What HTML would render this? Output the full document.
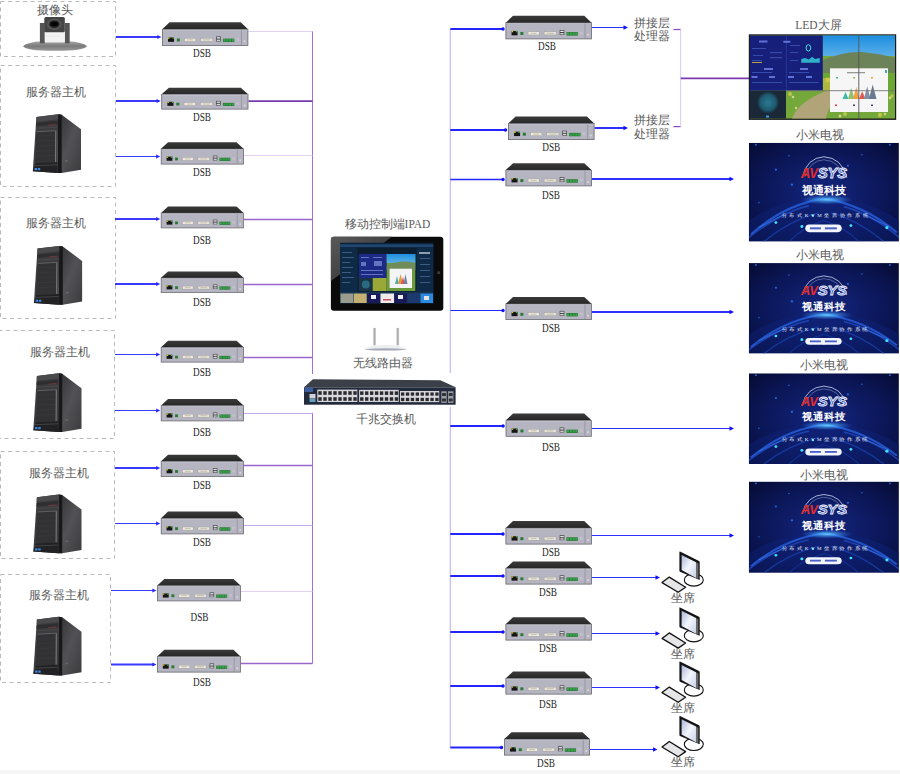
<!DOCTYPE html>
<html><head><meta charset="utf-8"><style>
html,body{margin:0;padding:0;background:#fff;width:900px;height:774px;overflow:hidden}
svg{display:block}
text{font-family:"Liberation Serif",serif}
.dsb{font-size:12.5px;text-anchor:middle;fill:#262626}
.cn{font-size:11.5px;text-anchor:middle;fill:#5a5a5a}
</style></head><body>
<svg width="900" height="774" viewBox="0 0 900 774">
<defs>
<linearGradient id="dsbTop" x1="0" y1="0" x2="0" y2="1">
  <stop offset="0" stop-color="#3a3a3a"/><stop offset="1" stop-color="#262626"/>
</linearGradient>
<g id="dsb">
  <polygon points="7.5,0.3 78.5,0.3 86,7.5 0,7.5" fill="url(#dsbTop)"/>
  <rect x="0.4" y="7.5" width="85.2" height="16.1" fill="#b5b4c1" stroke="#66666c" stroke-width="0.8"/>
  <line x1="0.8" y1="8.1" x2="85.2" y2="8.1" stroke="#d0d0da" stroke-width="0.6"/>
  <line x1="79.2" y1="8" x2="79.2" y2="23.2" stroke="#85858f" stroke-width="0.6"/>
  <rect x="6" y="15.6" width="6" height="4.4" fill="#151515"/>
  <rect x="6" y="15.6" width="1.6" height="1.3" fill="#e0d020"/>
  <rect x="10.3" y="15.6" width="1.6" height="1.3" fill="#40b040"/>
  <rect x="14.8" y="16.6" width="3" height="3" fill="#2a7a34"/>
  <rect x="22.5" y="16.4" width="11" height="3.2" fill="#f0ece0" stroke="#9a9890" stroke-width="0.4"/>
  <rect x="25" y="17.4" width="6" height="1.2" fill="#c8c4b8"/>
  <rect x="38.5" y="16.4" width="12" height="3.2" fill="#e8e4d8" stroke="#9a9890" stroke-width="0.4"/>
  <rect x="41" y="17.4" width="7" height="1.2" fill="#c8c4b8"/>
  <rect x="54" y="14.6" width="4.6" height="5" fill="#3a3a3a"/>
  <rect x="54.6" y="15.3" width="3.4" height="1.4" fill="#e8e8e8"/>
  <rect x="54.6" y="17.7" width="3.4" height="1.4" fill="#d8d8d8"/>
  <rect x="60.8" y="16.8" width="11.2" height="3.4" fill="#1e6a2e"/>
  <rect x="61.2" y="17.2" width="2.3" height="2.6" fill="#38a048"/><rect x="64" y="17.2" width="2.3" height="2.6" fill="#38a048"/><rect x="66.8" y="17.2" width="2.3" height="2.6" fill="#38a048"/><rect x="69.5" y="17.2" width="2.3" height="2.6" fill="#38a048"/>
  <circle cx="75.5" cy="17.6" r="1.1" fill="none" stroke="#d8d8d8" stroke-width="0.5"/>
  <circle cx="82.3" cy="19.5" r="1" fill="#d8d8e0"/>
</g>
</defs>

<rect x="0" y="770" width="900" height="4" fill="#f6f6f6"/>
<rect x="0.5" y="1.5" width="115.0" height="55.0" fill="none" stroke="#bababa" stroke-width="1" stroke-dasharray="4,3.5"/>
<rect x="0.5" y="65.5" width="115.0" height="121.0" fill="none" stroke="#bababa" stroke-width="1" stroke-dasharray="4,3.5"/>
<rect x="0.5" y="197.5" width="115.0" height="121.0" fill="none" stroke="#bababa" stroke-width="1" stroke-dasharray="4,3.5"/>
<rect x="-1.5" y="330.5" width="116.0" height="108.0" fill="none" stroke="#bababa" stroke-width="1" stroke-dasharray="4,3.5"/>
<rect x="0.5" y="451.5" width="114.0" height="107.0" fill="none" stroke="#bababa" stroke-width="1" stroke-dasharray="4,3.5"/>
<rect x="0.5" y="574.5" width="110.0" height="108.0" fill="none" stroke="#bababa" stroke-width="1" stroke-dasharray="4,3.5"/>
<line x1="312.5" y1="31" x2="312.5" y2="374" stroke="#a070d8" stroke-width="1"/>
<line x1="312.5" y1="412.8" x2="312.5" y2="663.5" stroke="#a070d8" stroke-width="1"/>
<line x1="248.3" y1="31.5" x2="312.5" y2="31.5" stroke="#e2d2f2" stroke-width="1"/>
<line x1="116" y1="37" x2="159" y2="37" stroke="#3a3aff" stroke-width="2"/>
<polygon points="161.5,37 157.3,35.0 157.3,39.0" fill="#2a2aff"/>
<line x1="248.4" y1="101.2" x2="312.5" y2="101.2" stroke="#7a3aae" stroke-width="1.8"/>
<line x1="116" y1="101" x2="158.3" y2="101" stroke="#3a3aff" stroke-width="2"/>
<polygon points="160.8,101 156.60000000000002,99.0 156.60000000000002,103.0" fill="#2a2aff"/>
<line x1="243.8" y1="155.5" x2="312.5" y2="155.5" stroke="#e2d2f2" stroke-width="1"/>
<line x1="116" y1="156.5" x2="157.8" y2="156.5" stroke="#3a3aff" stroke-width="1"/>
<polygon points="160.3,156.5 156.10000000000002,154.5 156.10000000000002,158.5" fill="#2a2aff"/>
<line x1="243.8" y1="219.5" x2="312.5" y2="219.5" stroke="#9a66cc" stroke-width="1.4"/>
<line x1="115" y1="219" x2="157.8" y2="219" stroke="#3a3aff" stroke-width="2"/>
<polygon points="160.3,219 156.10000000000002,217.0 156.10000000000002,221.0" fill="#2a2aff"/>
<line x1="243.8" y1="284.5" x2="312.5" y2="284.5" stroke="#9a66cc" stroke-width="1.4"/>
<line x1="115" y1="284" x2="157.8" y2="284" stroke="#3a3aff" stroke-width="2"/>
<polygon points="160.3,284 156.10000000000002,282.0 156.10000000000002,286.0" fill="#2a2aff"/>
<line x1="243.8" y1="357.5" x2="312.5" y2="357.5" stroke="#9a66cc" stroke-width="1.4"/>
<line x1="115" y1="354.5" x2="157.8" y2="354.5" stroke="#3a3aff" stroke-width="1"/>
<polygon points="160.3,354.5 156.10000000000002,352.5 156.10000000000002,356.5" fill="#2a2aff"/>
<line x1="243.8" y1="413.5" x2="312.5" y2="413.5" stroke="#c8a8e8" stroke-width="1.2"/>
<line x1="115" y1="410.5" x2="157.8" y2="410.5" stroke="#3a3aff" stroke-width="1.2"/>
<polygon points="160.3,410.5 156.10000000000002,408.5 156.10000000000002,412.5" fill="#2a2aff"/>
<line x1="243.8" y1="465.5" x2="312.5" y2="465.5" stroke="#9a66cc" stroke-width="1.4"/>
<line x1="115" y1="468" x2="157.8" y2="468" stroke="#3a3aff" stroke-width="2"/>
<polygon points="160.3,468 156.10000000000002,466.0 156.10000000000002,470.0" fill="#2a2aff"/>
<line x1="243.8" y1="525.5" x2="312.5" y2="525.5" stroke="#c8a8e8" stroke-width="1.2"/>
<line x1="115" y1="523.5" x2="157.8" y2="523.5" stroke="#3a3aff" stroke-width="1.2"/>
<polygon points="160.3,523.5 156.10000000000002,521.5 156.10000000000002,525.5" fill="#2a2aff"/>
<line x1="240.8" y1="591.5" x2="312.5" y2="591.5" stroke="#e2d2f2" stroke-width="1"/>
<line x1="111" y1="590.5" x2="154" y2="590.5" stroke="#3a3aff" stroke-width="1"/>
<polygon points="156.5,590.5 152.3,588.5 152.3,592.5" fill="#2a2aff"/>
<line x1="240.8" y1="663.5" x2="312.5" y2="663.5" stroke="#9a66cc" stroke-width="1.4"/>
<line x1="111" y1="664.5" x2="154" y2="664.5" stroke="#3a3aff" stroke-width="2"/>
<polygon points="156.5,664.5 152.3,662.5 152.3,666.5" fill="#2a2aff"/>
<line x1="450.3" y1="29" x2="450.3" y2="373" stroke="#beb4f0" stroke-width="1.1"/>
<line x1="450.3" y1="407.2" x2="450.3" y2="748" stroke="#beb4f0" stroke-width="1.1"/>
<line x1="450.3" y1="29" x2="503.5" y2="29" stroke="#2424ff" stroke-width="2"/>
<circle cx="503.0" cy="29" r="1.7" fill="#1010ff"/>
<line x1="591.8" y1="27.5" x2="625" y2="27.5" stroke="#3030ff" stroke-width="1"/>
<polygon points="628,27.5 623.5,25.3 623.5,29.7" fill="#1010ff"/>
<line x1="450.3" y1="130" x2="506" y2="130" stroke="#2424ff" stroke-width="2"/>
<circle cx="505.5" cy="130" r="1.7" fill="#1010ff"/>
<line x1="594.5" y1="128" x2="625" y2="128" stroke="#3030ff" stroke-width="2"/>
<polygon points="628,128 623.5,125.8 623.5,130.2" fill="#1010ff"/>
<line x1="450.3" y1="179.5" x2="503.5" y2="179.5" stroke="#2424ff" stroke-width="1.3"/>
<circle cx="503.0" cy="179.5" r="1.7" fill="#1010ff"/>
<line x1="591.8" y1="179" x2="731" y2="179" stroke="#3030ff" stroke-width="2"/>
<polygon points="734,179 729.5,176.8 729.5,181.2" fill="#1010ff"/>
<line x1="450.3" y1="310.5" x2="503.5" y2="310.5" stroke="#2424ff" stroke-width="1.2"/>
<circle cx="503.0" cy="310.5" r="1.7" fill="#1010ff"/>
<line x1="591.8" y1="312" x2="731" y2="312" stroke="#3030ff" stroke-width="2"/>
<polygon points="734,312 729.5,309.8 729.5,314.2" fill="#1010ff"/>
<line x1="450.3" y1="426" x2="503.6" y2="426" stroke="#2424ff" stroke-width="2"/>
<circle cx="503.1" cy="426" r="1.7" fill="#1010ff"/>
<line x1="591.7" y1="428.5" x2="731" y2="428.5" stroke="#3030ff" stroke-width="1.2"/>
<polygon points="734,428.5 729.5,426.3 729.5,430.7" fill="#1010ff"/>
<line x1="450.3" y1="534" x2="503.5" y2="534" stroke="#2424ff" stroke-width="2"/>
<circle cx="503.0" cy="534" r="1.7" fill="#1010ff"/>
<line x1="591.8" y1="535.5" x2="731" y2="535.5" stroke="#3030ff" stroke-width="1"/>
<polygon points="734,535.5 729.5,533.3 729.5,537.7" fill="#1010ff"/>
<line x1="450.3" y1="576" x2="503.5" y2="576" stroke="#2424ff" stroke-width="2"/>
<circle cx="503.0" cy="576" r="1.7" fill="#1010ff"/>
<line x1="591.8" y1="577.5" x2="657" y2="577.5" stroke="#3030ff" stroke-width="1"/>
<polygon points="660,577.5 655.5,575.3 655.5,579.7" fill="#1010ff"/>
<line x1="450.3" y1="632" x2="503.5" y2="632" stroke="#2424ff" stroke-width="2"/>
<circle cx="503.0" cy="632" r="1.7" fill="#1010ff"/>
<line x1="591.8" y1="633.5" x2="657" y2="633.5" stroke="#3030ff" stroke-width="1"/>
<polygon points="660,633.5 655.5,631.3 655.5,635.7" fill="#1010ff"/>
<line x1="450.3" y1="686" x2="503.5" y2="686" stroke="#2424ff" stroke-width="2"/>
<circle cx="503.0" cy="686" r="1.7" fill="#1010ff"/>
<line x1="591.8" y1="687.5" x2="657" y2="687.5" stroke="#3030ff" stroke-width="1"/>
<polygon points="660,687.5 655.5,685.3 655.5,689.7" fill="#1010ff"/>
<line x1="450.3" y1="747.5" x2="502" y2="747.5" stroke="#2424ff" stroke-width="2"/>
<circle cx="501.5" cy="747.5" r="1.7" fill="#1010ff"/>
<line x1="590" y1="749.5" x2="654.5" y2="749.5" stroke="#3030ff" stroke-width="1"/>
<polygon points="657.5,749.5 653.0,747.3 653.0,751.7" fill="#1010ff"/>
<use href="#dsb" transform="translate(162,22) scale(1.0035,0.9917)"/>
<use href="#dsb" transform="translate(161.3,87.5) scale(1.0128,0.9167)"/>
<use href="#dsb" transform="translate(160.8,142) scale(0.9651,0.9375)"/>
<use href="#dsb" transform="translate(160.8,206.3) scale(0.9651,0.9167)"/>
<use href="#dsb" transform="translate(160.8,271.3) scale(0.9651,0.9042)"/>
<use href="#dsb" transform="translate(160.8,340.5) scale(0.9651,0.9167)"/>
<use href="#dsb" transform="translate(160.8,398.8) scale(0.9651,0.9375)"/>
<use href="#dsb" transform="translate(160.8,454.5) scale(0.9651,0.9375)"/>
<use href="#dsb" transform="translate(160.8,511.3) scale(0.9651,0.9583)"/>
<use href="#dsb" transform="translate(157,578.8) scale(0.9744,0.9375)"/>
<use href="#dsb" transform="translate(157,649.5) scale(0.9744,0.9583)"/>
<use href="#dsb" transform="translate(505.5,15.5) scale(1.0035,0.9917)"/>
<use href="#dsb" transform="translate(508,116.3) scale(1.0058,0.9875)"/>
<use href="#dsb" transform="translate(505.5,163) scale(1.0035,0.9708)"/>
<use href="#dsb" transform="translate(505.5,296.8) scale(1.0035,0.9667)"/>
<use href="#dsb" transform="translate(505.6,413.3) scale(1.0012,0.9750)"/>
<use href="#dsb" transform="translate(505.5,520.8) scale(1.0035,0.9875)"/>
<use href="#dsb" transform="translate(505.5,561.3) scale(1.0035,0.9667)"/>
<use href="#dsb" transform="translate(505.5,617) scale(1.0035,0.9792)"/>
<use href="#dsb" transform="translate(505.5,671.3) scale(1.0035,0.9667)"/>
<use href="#dsb" transform="translate(504,732) scale(1.0000,0.9792)"/>
<text class="dsb" x="202" y="56.7" textLength="18" lengthAdjust="spacingAndGlyphs">DSB</text>
<text class="dsb" x="202" y="120.5" textLength="18" lengthAdjust="spacingAndGlyphs">DSB</text>
<text class="dsb" x="202" y="176.2" textLength="18" lengthAdjust="spacingAndGlyphs">DSB</text>
<text class="dsb" x="202" y="244.2" textLength="18" lengthAdjust="spacingAndGlyphs">DSB</text>
<text class="dsb" x="202" y="306.2" textLength="18" lengthAdjust="spacingAndGlyphs">DSB</text>
<text class="dsb" x="202" y="375.5" textLength="18" lengthAdjust="spacingAndGlyphs">DSB</text>
<text class="dsb" x="202" y="436.2" textLength="18" lengthAdjust="spacingAndGlyphs">DSB</text>
<text class="dsb" x="202" y="488.7" textLength="18" lengthAdjust="spacingAndGlyphs">DSB</text>
<text class="dsb" x="202" y="545.5" textLength="18" lengthAdjust="spacingAndGlyphs">DSB</text>
<text class="dsb" x="199.5" y="620.5" textLength="18" lengthAdjust="spacingAndGlyphs">DSB</text>
<text class="dsb" x="202" y="685.5" textLength="18" lengthAdjust="spacingAndGlyphs">DSB</text>
<text class="dsb" x="547" y="50.0" textLength="18" lengthAdjust="spacingAndGlyphs">DSB</text>
<text class="dsb" x="551.3" y="151.2" textLength="18" lengthAdjust="spacingAndGlyphs">DSB</text>
<text class="dsb" x="551" y="198.5" textLength="18" lengthAdjust="spacingAndGlyphs">DSB</text>
<text class="dsb" x="551" y="332.2" textLength="18" lengthAdjust="spacingAndGlyphs">DSB</text>
<text class="dsb" x="551" y="450.5" textLength="18" lengthAdjust="spacingAndGlyphs">DSB</text>
<text class="dsb" x="551" y="556.2" textLength="18" lengthAdjust="spacingAndGlyphs">DSB</text>
<text class="dsb" x="548" y="596.2" textLength="18" lengthAdjust="spacingAndGlyphs">DSB</text>
<text class="dsb" x="548" y="651.7" textLength="18" lengthAdjust="spacingAndGlyphs">DSB</text>
<text class="dsb" x="548" y="707.5" textLength="18" lengthAdjust="spacingAndGlyphs">DSB</text>
<text class="dsb" x="546" y="767.2" textLength="18" lengthAdjust="spacingAndGlyphs">DSB</text>
<defs>
  <linearGradient id="towerFront" x1="0" y1="0" x2="1" y2="0">
    <stop offset="0" stop-color="#242426"/><stop offset="0.5" stop-color="#3a3a3d"/><stop offset="1" stop-color="#2a2a2c"/>
  </linearGradient>
  <linearGradient id="towerSide" x1="0" y1="0" x2="1" y2="1">
    <stop offset="0" stop-color="#303033"/><stop offset="0.5" stop-color="#525256"/><stop offset="1" stop-color="#3c3c3f"/>
  </linearGradient>
  <linearGradient id="camBase" x1="0" y1="0" x2="0" y2="1">
    <stop offset="0" stop-color="#a8a8a8"/><stop offset="0.5" stop-color="#7a7a7a"/><stop offset="1" stop-color="#9a9a9a"/>
  </linearGradient>
  <g id="tower">
    <polygon points="3.6,2.7 25.3,0 24.9,58.8 0,57" fill="#3c3c3f"/>
    <polygon points="25.3,0 28.9,0.6 48.2,15 48.2,55.5 28.9,58.8 24.9,58.8" fill="url(#towerSide)"/>
    <polygon points="25.3,0 28.9,0.6 28.9,58.8 24.9,58.8" fill="#18181a"/>
    <polygon points="3.6,2.7 25.3,0 25.3,5 3.4,7.5" fill="#4a4a4d"/>
    <polygon points="3.4,8.5 25,6.5 25,10 3.2,12" fill="#2e2e30"/>
    <line x1="3.3" y1="14" x2="25" y2="13" stroke="#505053" stroke-width="0.6"/>
    <polygon points="4,17.5 23.5,16.5 23.3,48 2.5,49" fill="#323235"/>
    <g stroke="#3c3c40" stroke-width="0.5"><line x1="4" y1="22" x2="23.4" y2="21"/><line x1="3.8" y1="27" x2="23.4" y2="26"/><line x1="3.6" y1="32" x2="23.3" y2="31"/><line x1="3.4" y1="37" x2="23.3" y2="36"/><line x1="3.2" y1="42" x2="23.3" y2="41"/></g>
    <line x1="23" y1="16.8" x2="22.8" y2="48" stroke="#8a8a8e" stroke-width="0.9"/>
    <line x1="4" y1="17.5" x2="23.5" y2="16.5" stroke="#6a6a6e" stroke-width="0.8"/>
    <polygon points="2.5,49 24.9,48 24.9,58.8 0,57" fill="#222224"/>
    <line x1="1" y1="51.5" x2="24.9" y2="50.6" stroke="#58585c" stroke-width="0.6"/>
    <rect x="1.8" y="53.8" width="2.4" height="2.2" fill="#3a86e0"/><rect x="5" y="53.8" width="2.4" height="2.2" fill="#3a86e0"/>
    <line x1="15" y1="11" x2="23" y2="10.3" stroke="#9a3a3a" stroke-width="0.6"/>
    <rect x="32" y="46" width="3" height="1.5" fill="#666"/>
  </g>
</defs>
<!-- box titles -->
<text class="cn" x="54.8" y="14">摄像头</text>
<text class="cn" x="55.8" y="95.8">服务器主机</text>
<text class="cn" x="55.5" y="227">服务器主机</text>
<text class="cn" x="59.5" y="355.8">服务器主机</text>
<text class="cn" x="59.3" y="476.8">服务器主机</text>
<text class="cn" x="59.3" y="599">服务器主机</text>
<!-- camera -->
<path d="M23,46.2 Q27,42 42,41.2 L68,41.2 Q83,42 87,46.2 Q84,50.8 55,50.8 Q26,50.8 23,46.2 Z" fill="url(#camBase)"/>
<rect x="39.9" y="23" width="4.9" height="20.3" fill="#555"/>
<rect x="64.8" y="23" width="4.9" height="20.3" fill="#555"/>
<rect x="44.8" y="32" width="20" height="10.5" fill="#f2f2f2"/>
<line x1="46" y1="36" x2="60" y2="36" stroke="#ddd" stroke-width="0.5"/>
<rect x="44.3" y="16.9" width="20.5" height="15.4" rx="1.5" fill="#444"/>
<ellipse cx="54.3" cy="24.4" rx="7.2" ry="5.6" fill="#5a5a5a"/>
<ellipse cx="54.3" cy="24.2" rx="5.5" ry="4" fill="#2a2a2a"/>
<ellipse cx="54.3" cy="24" rx="3.8" ry="2.4" fill="#050505"/>
<!-- towers -->
<use href="#tower" transform="translate(32.8,114.2)"/>
<use href="#tower" transform="translate(33.9,245.9)"/>
<use href="#tower" transform="translate(33.3,373.2)"/>
<use href="#tower" transform="translate(33.3,494.5)"/>
<use href="#tower" transform="translate(33.3,616.7)"/>
<defs>
  <linearGradient id="ipadGloss" x1="0" y1="0" x2="1" y2="1">
    <stop offset="0" stop-color="#5a5a5a"/><stop offset="0.7" stop-color="#3a3a3a"/><stop offset="1" stop-color="#2a2a2a"/>
  </linearGradient>
  <linearGradient id="antenna" x1="0" y1="0" x2="1" y2="0">
    <stop offset="0" stop-color="#e0e0e0"/><stop offset="0.5" stop-color="#a8a8a8"/><stop offset="1" stop-color="#d0d0d0"/>
  </linearGradient>
  <linearGradient id="sky" x1="0" y1="0" x2="0" y2="1">
    <stop offset="0" stop-color="#1d8ee0"/><stop offset="1" stop-color="#5ab0e8"/>
  </linearGradient>
  <g id="ports8">
    <rect x="0" y="0" width="40" height="12.4" fill="#d8d8dc"/>
    <g fill="#2a2a2e">
      <rect x="1" y="1.6" width="3.4" height="3.6"/><rect x="6" y="1.6" width="3.4" height="3.6"/><rect x="11" y="1.6" width="3.4" height="3.6"/><rect x="16" y="1.6" width="3.4" height="3.6"/>
      <rect x="21" y="1.6" width="3.4" height="3.6"/><rect x="26" y="1.6" width="3.4" height="3.6"/><rect x="31" y="1.6" width="3.4" height="3.6"/><rect x="36" y="1.6" width="3.4" height="3.6"/>
      <rect x="1" y="7.6" width="3.4" height="3.6"/><rect x="6" y="7.6" width="3.4" height="3.6"/><rect x="11" y="7.6" width="3.4" height="3.6"/><rect x="16" y="7.6" width="3.4" height="3.6"/>
      <rect x="21" y="7.6" width="3.4" height="3.6"/><rect x="26" y="7.6" width="3.4" height="3.6"/><rect x="31" y="7.6" width="3.4" height="3.6"/><rect x="36" y="7.6" width="3.4" height="3.6"/>
    </g>
  </g>
</defs>
<!-- iPad label -->
<text class="cn" x="387.5" y="228">移动控制端IPAD</text>
<!-- iPad -->
<rect x="330.9" y="236.7" width="112.4" height="74" rx="3" fill="#0a0a0a"/>
<path d="M333.9,236.7 L392,236.7 L330.9,281 L330.9,239.7 Q330.9,236.7 333.9,236.7 Z" fill="url(#ipadGloss)"/>
<circle cx="438.7" cy="272.7" r="1.6" fill="#3a3a3a"/>
<rect x="340" y="242.7" width="93.3" height="60.6" fill="#0d2238"/>
<rect x="340" y="244.3" width="93.3" height="2.8" fill="#1f4670"/>
<rect x="340" y="247.1" width="17.4" height="45" fill="#0f2a46"/>
<rect x="416.7" y="247.1" width="16.6" height="45" fill="#0f2a46"/>
<rect x="357.5" y="248" width="59" height="5.5" fill="#0c1d30"/>
<g fill="#5f86b0" opacity="0.7">
  <rect x="342" y="252" width="10" height="0.8"/><rect x="342" y="257" width="12" height="0.8"/><rect x="342" y="262" width="8" height="0.8"/>
  <rect x="342" y="267" width="11" height="0.8"/><rect x="342" y="272" width="9" height="0.8"/><rect x="342" y="277" width="12" height="0.8"/><rect x="342" y="282" width="8" height="0.8"/>
  <rect x="419" y="252" width="11" height="2" fill="#c0d0e0"/><rect x="420" y="258" width="10" height="0.8"/><rect x="420" y="264" width="10" height="0.8"/>
  <rect x="420" y="270" width="10" height="0.8"/><rect x="420" y="276" width="10" height="0.8"/><rect x="420" y="282" width="10" height="0.8"/>
</g>
<rect x="359" y="254" width="27.7" height="24" fill="#1c2a86"/>
<g fill="#8fa8e8" opacity="0.6"><rect x="361" y="257" width="8" height="1"/><rect x="373" y="257" width="9" height="1"/><rect x="361" y="262" width="5" height="4"/><rect x="374" y="261" width="8" height="5"/><rect x="361" y="270" width="22" height="1"/><rect x="361" y="274" width="22" height="1"/></g>
<rect x="359" y="278" width="13.7" height="13" fill="#1a3446"/>
<circle cx="365.8" cy="284.5" r="4" fill="#2a6a80"/>
<rect x="372.7" y="278" width="14" height="13" fill="#9aa838"/>
<rect x="386.7" y="254" width="28.6" height="37" fill="#6a9a3a"/>
<rect x="386.7" y="254" width="28.6" height="9" fill="url(#sky)"/>
<path d="M386.7,266 Q400,259 415.3,263 L415.3,270 L386.7,270 Z" fill="#6f8c5a"/>
<rect x="389.6" y="268.7" width="22.4" height="19.3" fill="#f4f4f6"/>
<g><polygon points="395,284 397,276 399,284" fill="#4ab0a8"/><polygon points="398,284 400.5,274 403,284" fill="#e09a40"/><polygon points="401,284 403,277 405,284" fill="#e05050"/><polygon points="403.5,284 405.5,274 407.5,284" fill="#7080a0"/></g>
<rect x="340" y="292" width="93.3" height="11.3" fill="#173452"/>
<rect x="340.5" y="293.5" width="13" height="9.5" fill="#9a9c90"/>
<rect x="354" y="293.5" width="12.7" height="9.5" fill="#c4b070"/>
<rect x="367.2" y="293.5" width="12.8" height="9.5" fill="#1a1a5a"/><rect x="371" y="295" width="5" height="4" fill="#f0f0f0"/>
<rect x="380.5" y="293.5" width="13.5" height="9.5" fill="#f0eaea"/><rect x="383" y="299" width="8" height="1.5" fill="#d05060"/>
<rect x="394.5" y="293.5" width="12.5" height="9.5" fill="#1a1a5a"/><rect x="398" y="295" width="5" height="4" fill="#f0f0f0"/>
<rect x="407.5" y="293.5" width="12.5" height="9.5" fill="#1c3a70"/>
<rect x="420.5" y="293.5" width="12.5" height="9.5" fill="#2a8ae0"/><rect x="424" y="296" width="5" height="4" fill="#e8e0e0"/>
<!-- router -->
<rect x="373" y="327.9" width="2.9" height="17.5" fill="url(#antenna)"/>
<rect x="396.2" y="327.9" width="2.9" height="17.5" fill="url(#antenna)"/>
<path d="M363.7,349.5 Q368,345 385,344.9 Q402,345 407.7,349.5 Q402,350.6 385,350.5 Q368,350.6 363.7,349.5 Z" fill="#eceef2"/>
<path d="M364.5,349.2 Q385,347.5 407,349.2 Q402,350.6 385,350.5 Q368,350.6 364.5,349.2 Z" fill="#a8aab8"/>
<text class="cn" x="383" y="366.5">无线路由器</text>
<!-- switch -->
<polygon points="312.9,379.3 440.4,380.2 455.6,387.3 304,387.3" fill="#3b3f48"/>
<rect x="304" y="387.3" width="151.6" height="17.4" fill="#222a3c"/>
<rect x="304.5" y="387.5" width="8.5" height="4.5" fill="#3d5d9d"/>
<rect x="309.5" y="394" width="6" height="4.5" fill="#cfd2d8"/>
<rect x="309.5" y="399" width="6" height="3" fill="#5fa0c0"/>
<use href="#ports8" transform="translate(317.3,389.6)"/>
<use href="#ports8" transform="translate(359.1,389.8) scale(0.99,0.98)"/>
<use href="#ports8" transform="translate(400,391) scale(0.98,0.9)"/>
<rect x="441.3" y="391.3" width="5.4" height="11.6" fill="#9a9ea8"/>
<rect x="448" y="391.3" width="5.4" height="11.6" fill="#9a9ea8"/>
<rect x="442" y="393" width="4" height="3" fill="#333"/><rect x="442" y="398.5" width="4" height="3" fill="#333"/>
<rect x="448.7" y="393" width="4" height="3" fill="#333"/><rect x="448.7" y="398.5" width="4" height="3" fill="#333"/>
<text class="cn" x="386" y="422.5">千兆交换机</text>
<defs>
  <radialGradient id="tvbg" cx="0.5" cy="0.5" r="0.72">
    <stop offset="0" stop-color="#142680"/><stop offset="0.6" stop-color="#0b1656"/><stop offset="1" stop-color="#060a30"/>
  </radialGradient>
  <radialGradient id="glow" cx="0.5" cy="0.5" r="0.5">
    <stop offset="0" stop-color="#6ad0ff" stop-opacity="1"/><stop offset="1" stop-color="#2a80ff" stop-opacity="0"/>
  </radialGradient>
  <linearGradient id="scr" x1="0" y1="0" x2="1" y2="1">
    <stop offset="0" stop-color="#a8b4d8"/><stop offset="0.5" stop-color="#f4f6fc"/><stop offset="1" stop-color="#c8d0e8"/>
  </linearGradient>
  <radialGradient id="teal" cx="0.5" cy="0.5" r="0.5">
    <stop offset="0" stop-color="#2a7a90"/><stop offset="0.7" stop-color="#1e5a70"/><stop offset="1" stop-color="#1a2a3a"/>
  </radialGradient>
  <filter id="soft" x="-10%" y="-10%" width="120%" height="120%"><feGaussianBlur stdDeviation="0.5"/></filter>
  <clipPath id="tvclip"><rect x="0" y="0" width="150" height="99"/></clipPath>
  <g id="tv" clip-path="url(#tvclip)">
    <rect x="0" y="0" width="150" height="99" fill="url(#tvbg)"/>
    <ellipse cx="75" cy="150" rx="115" ry="95" fill="#10247a" opacity="0.45"/>
    <g filter="url(#soft)">
    <path d="M2,92 Q35,62 75,56 Q115,62 148,90" fill="none" stroke="#2a6af0" stroke-width="2.2" opacity="0.7"/>
    <path d="M-5,99 Q30,70 60,63" fill="none" stroke="#2a5ae0" stroke-width="1.6" opacity="0.6"/>
    <path d="M155,99 Q125,72 95,64" fill="none" stroke="#2a5ae0" stroke-width="1.6" opacity="0.6"/>
    <path d="M15,99 Q40,78 70,70" fill="none" stroke="#1e50d0" stroke-width="1.4" opacity="0.55"/>
    <path d="M135,99 Q110,78 82,70" fill="none" stroke="#1e50d0" stroke-width="1.4" opacity="0.55"/>
    <path d="M40,99 Q55,84 75,78 Q95,84 110,99" fill="none" stroke="#1a44c0" stroke-width="1.2" opacity="0.5"/>
    <path d="M10,85 L35,72" stroke="#3a80ff" stroke-width="1.2" opacity="0.6"/>
    <path d="M140,84 L115,72" stroke="#3a80ff" stroke-width="1.2" opacity="0.6"/>
    </g>
    <ellipse cx="78" cy="57" rx="26" ry="5" fill="url(#glow)" opacity="0.95"/>
    <g fill="#40e8ff">
      <circle cx="27" cy="80" r="1.4"/><circle cx="53" cy="84" r="1.5"/><circle cx="75" cy="88" r="1.4"/><circle cx="102" cy="83" r="1.4"/><circle cx="138" cy="85" r="1.6"/><circle cx="64" cy="73" r="1.2"/>
    </g>
    <g fill="#2a7aff" opacity="0.8">
      <circle cx="7" cy="2" r="1"/><circle cx="27" cy="27" r="1.1"/><circle cx="99" cy="23" r="1.1"/><circle cx="141" cy="2" r="1"/><circle cx="43" cy="42" r="1.2"/><circle cx="113" cy="12" r="0.8"/><circle cx="10" cy="60" r="0.8"/><circle cx="40" cy="13" r="0.8"/>
    </g>
    <path d="M53,35 Q58,15 75,14 Q93,15 98,35" fill="none" stroke="#c0c8e8" stroke-width="0.9"/>
    <path d="M56,34 Q61,18 75,17 Q90,18 95,34" fill="none" stroke="#8a98c8" stroke-width="0.6"/>
    <text x="52" y="35.5" style="font-family:'Liberation Sans',sans-serif;font-weight:bold;font-style:italic;font-size:14px;fill:#e82a2a" textLength="17" lengthAdjust="spacingAndGlyphs">AV</text>
    <text x="69" y="35.5" style="font-family:'Liberation Sans',sans-serif;font-weight:bold;font-style:italic;font-size:14px;fill:#3050b8;stroke:#eef2ff;stroke-width:0.9px" textLength="29" lengthAdjust="spacingAndGlyphs">SYS</text>
    <text x="74.7" y="51.5" style="font-weight:bold;font-size:11px;fill:#ffffff" text-anchor="middle" textLength="44" lengthAdjust="spacingAndGlyphs">视通科技</text>
    <text x="75.8" y="74.4" style="font-size:5px;fill:#e8f0ff" text-anchor="middle" textLength="86" lengthAdjust="spacing">分布式KVM坐席协作系统</text>
    <rect x="56.4" y="82" width="36.4" height="7.6" rx="3.8" fill="#f4f6ff"/>
    <rect x="61" y="84.8" width="11" height="2" fill="#4a60c8"/><rect x="76" y="84.8" width="12" height="2" fill="#4a60c8"/>
  </g>
  <g id="ws">
    <ellipse cx="33" cy="2.4" rx="9.5" ry="6.2" fill="#fff" stroke="#111" stroke-width="1.1"/>
    <path d="M19.2,-25.9 L38.2,-16.6 Q38.9,-16.2 38.9,-15.4 L38.9,2.4 L19.2,-5.8 Q18.6,-6.1 18.6,-6.8 L18.6,-25 Q18.6,-26.2 19.2,-25.9 Z" fill="#141414"/>
    <polygon points="20.8,-22.6 35.2,-15.3 35.2,0.4 20.8,-7.4" fill="url(#scr)"/>
    <polygon points="35.2,-15.3 37.6,-14.1 37.6,1.4 35.2,0.4" fill="#6a6a6a"/>
    <polygon points="1.2,5.1 8.5,-0.4 24.8,9.7 17.4,14.8" fill="#e6e6e8" stroke="#111" stroke-width="1.3" stroke-linejoin="round"/>
  </g>
</defs>
<!-- stitching processor labels -->
<text class="cn" x="652" y="26.5">拼接层</text>
<text class="cn" x="652" y="40">处理器</text>
<text class="cn" x="652" y="123.5">拼接层</text>
<text class="cn" x="652" y="138">处理器</text>
<polyline points="673.5,29.5 680.7,29.5" stroke="#8a4ac0" stroke-width="1.2" fill="none"/>
<polyline points="673.5,126.6 680.7,126.6" stroke="#8a4ac0" stroke-width="1.2" fill="none"/>
<line x1="680.7" y1="29.5" x2="680.7" y2="126.6" stroke="#d8c8f0" stroke-width="1"/>
<line x1="680.7" y1="78.4" x2="749" y2="78.4" stroke="#7a3ab0" stroke-width="1.6"/>
<!-- LED -->
<text class="cn" x="818.4" y="28.5">LED大屏</text>
<rect x="748.8" y="34.3" width="147.4" height="85.6" fill="#1a1a1a"/>
<rect x="750" y="35.5" width="145" height="83" fill="#74a83a"/>
<rect x="822.8" y="35.5" width="72.2" height="20.5" fill="url(#sky)"/>
<path d="M822.8,60 Q845,51 862,52 Q882,54 895,58 L895,76 L822.8,76 Z" fill="#6c8258"/>
<rect x="822.8" y="73" width="72.2" height="18" fill="#6ea834"/>
<rect x="822.8" y="78" width="8" height="13" fill="#c8c040" opacity="0.7"/>
<path d="M792,118.5 Q798,102 826,91 L846,91 Q828,104 826,118.5 Z" fill="#b0a478"/>
<g fill="#d8d050" opacity="0.7"><circle cx="790" cy="94" r="2"/><circle cx="828" cy="80" r="2.5"/><circle cx="845" cy="114" r="2"/><circle cx="880" cy="115" r="2.2"/><circle cx="892" cy="96" r="1.8"/></g>
<rect x="750" y="35.5" width="72.8" height="55.2" fill="#16207a"/>
<line x1="786.4" y1="36" x2="786.4" y2="90.7" stroke="#2a3aa0" stroke-width="0.8"/>
<g fill="#6a7ae0" opacity="0.9">
  <rect x="759" y="40.5" width="8.5" height="2"/><rect x="783.3" y="40.8" width="7" height="2"/>
  <rect x="764" y="68" width="9" height="2"/><rect x="800" y="68" width="8" height="2"/>
  <rect x="751.5" y="76" width="6" height="2"/><rect x="769" y="76" width="6" height="2"/><rect x="788" y="76" width="6" height="2"/><rect x="806" y="76" width="6" height="2"/>
</g>
<g fill="#4a6ad0" opacity="0.6">
  <rect x="752" y="48" width="14" height="1"/><rect x="753" y="55" width="10" height="1"/><rect x="752" y="60" width="10" height="1"/><rect x="770" y="52" width="12" height="1.2"/><rect x="770" y="57" width="12" height="1.2"/>
  <rect x="790" y="45" width="10" height="1"/><rect x="790" y="52" width="8" height="1"/><rect x="790" y="60" width="8" height="1"/>
  <rect x="752" y="72" width="20" height="1"/><rect x="789" y="72" width="20" height="1"/><rect x="752" y="82" width="30" height="1"/><rect x="789" y="82" width="30" height="1"/>
</g>
<rect x="752" y="62" width="10" height="1" fill="#c0a040"/>
<ellipse cx="808.4" cy="47.9" rx="2.3" ry="3.2" fill="none" stroke="#40e0e0" stroke-width="1"/>
<path d="M801.2,62.7 L801.2,59 L805,58 L809,59.5 L812,56.8 L815,59 L819.8,58 L819.8,62.7 Z" fill="#30b0c8"/>
<rect x="750" y="90.7" width="36" height="27.8" fill="#1a2838"/>
<circle cx="768" cy="102.5" r="11" fill="url(#teal)"/>
<rect x="766" y="115.5" width="3" height="2" fill="#40a0e0"/>
<g fill="#e8e0a0" opacity="0.8"><circle cx="793" cy="97" r="1.3"/><circle cx="796" cy="108" r="1.2"/><circle cx="840" cy="116" r="1.5"/><circle cx="890" cy="98" r="1.4"/><circle cx="885" cy="114" r="1.3"/></g>
<rect x="830" y="68.3" width="58" height="43.7" fill="#f6f6f6"/>
<rect x="847" y="72" width="18" height="1.3" fill="#999"/>
<rect x="885" y="70" width="2" height="3" fill="#40b0a0"/>
<rect x="836" y="77" width="2" height="1.5" fill="#40b0a0"/><rect x="853" y="77" width="2" height="1.5" fill="#8ac060"/><rect x="871" y="77" width="2" height="1.5" fill="#f0a040"/>
<g>
  <polygon points="842.5,99 845.5,92 848.5,99" fill="#40b8a8"/>
  <polygon points="848,99 851.3,87.8 854.5,99" fill="#90c070"/>
  <polygon points="853,99 856.3,87 859.5,99" fill="#f0a040"/>
  <polygon points="859,99 862.2,91.2 865.5,99" fill="#e05a50"/>
  <polygon points="864,99 867.2,86.2 870.5,99" fill="#8090a8"/>
  <polygon points="869,99 872.7,84.5 876.5,99" fill="#6a7890"/>
</g>
<rect x="835" y="104.5" width="2" height="1.5" fill="#d04040"/><rect x="853" y="104.5" width="2" height="1.5" fill="#404060"/><rect x="871" y="104.5" width="2" height="1.5" fill="#404060"/>
<line x1="858.8" y1="35.5" x2="858.8" y2="118.5" stroke="#555" stroke-width="0.9"/>
<line x1="786" y1="90.7" x2="895" y2="90.7" stroke="#777" stroke-width="0.9"/>
<!-- TVs -->
<text class="cn" x="820.4" y="138.5">小米电视</text>
<use href="#tv" transform="translate(748.9,142.8) scale(1,0.9970)"/>
<text class="cn" x="820.4" y="258.5">小米电视</text>
<use href="#tv" transform="translate(748.9,263.1) scale(1,0.9121)"/>
<text class="cn" x="824" y="368.5">小米电视</text>
<use href="#tv" transform="translate(748.9,373.3) scale(1,0.9162)"/>
<text class="cn" x="824" y="478.5">小米电视</text>
<use href="#tv" transform="translate(748.9,481.6) scale(1,0.9212)"/>
<!-- workstations -->
<use href="#ws" transform="translate(660.8,577.5)"/>
<text class="cn" x="683" y="601.5">坐席</text>
<use href="#ws" transform="translate(660.8,633.3)"/>
<text class="cn" x="683" y="657.5">坐席</text>
<use href="#ws" transform="translate(660.8,687.5)"/>
<text class="cn" x="683" y="711.7">坐席</text>
<use href="#ws" transform="translate(660.8,741.9)"/>
<text class="cn" x="683" y="766">坐席</text>

</svg>
</body></html>
